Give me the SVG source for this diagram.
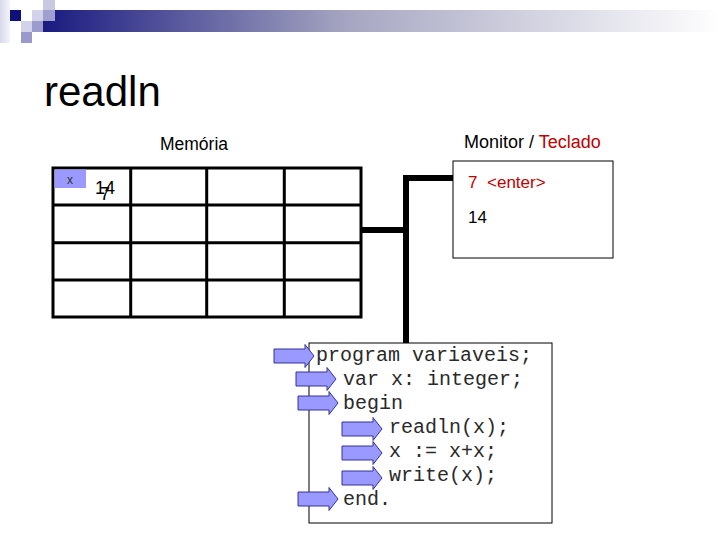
<svg xmlns="http://www.w3.org/2000/svg" width="720" height="540" viewBox="0 0 720 540">
<defs>
<linearGradient id="bar" x1="0" y1="0" x2="1" y2="0">
<stop offset="0" stop-color="#1a1a80"/>
<stop offset="0.45" stop-color="#a6a6c2"/>
<stop offset="1" stop-color="#ffffff"/>
</linearGradient>
<linearGradient id="strip" x1="0" y1="0" x2="1" y2="0">
<stop offset="0" stop-color="#d8d8ec"/>
<stop offset="1" stop-color="#f4f4fa"/>
</linearGradient>
<path id="arr" d="M0,-7 H31 V-11.5 L40,0 L31,11.5 V7 H0 Z"/>
</defs>
<style>
.sans{font-family:"Liberation Sans",Arial,sans-serif}
.mono{font-family:"Liberation Mono","Courier New",monospace;font-size:20px;fill:#2a2a2a}
.grid{fill:none;stroke:#000;stroke-width:3}
.wire{fill:none;stroke:#000;stroke-width:6}
.ar{fill:#9999ff;stroke:#333399;stroke-width:1}
</style>
<rect width="720" height="540" fill="#fff"/>
<g id="header">
<rect x="43" y="10" width="677" height="22" fill="url(#bar)"/>
<rect x="0" y="0" width="10" height="43" fill="url(#strip)"/>
<rect x="10" y="10" width="11" height="11" fill="#10107a"/>
<rect x="43" y="0" width="12" height="10" fill="#c8c8e2"/>
<rect x="32" y="10" width="11" height="11" fill="#d2d2ea"/>
<rect x="43" y="10" width="12" height="11" fill="#a0a0d0"/>
<rect x="21" y="21" width="11" height="11" fill="#d2d2ea"/>
<rect x="32" y="21" width="11" height="11" fill="#9c9ccc"/>
<rect x="21" y="32" width="11" height="11" fill="#9999cc"/>
</g>
<text class="sans" x="44" y="106" font-size="42">readln</text>
<g id="memory">
<text class="sans" x="194" y="150" font-size="17.5" text-anchor="middle">Memória</text>
<rect class="grid" x="53" y="168" width="308" height="149"/>
<path class="grid" d="M130.7,168V317M206.7,168V317M284.3,168V317M53,205H361M53,242.7H361M53,280H361"/>
<rect x="54.5" y="169.5" width="31.5" height="18.5" fill="#9999ff"/>
<text class="sans" x="70" y="184" font-size="12" fill="#333" text-anchor="middle">x</text>
<text class="sans" x="95" y="194" font-size="18">14</text>
<text class="sans" x="100" y="200" font-size="18">7</text>
</g>
<g id="monitor">
<text class="sans" x="464" y="148" font-size="18">Monitor / <tspan fill="#c00000">Teclado</tspan></text>
<rect x="453" y="161" width="160" height="97" fill="none" stroke="#000" stroke-width="1"/>
<text class="sans" x="468" y="188" font-size="17" fill="#c00000">7</text>
<text class="sans" x="487" y="188" font-size="17" fill="#c00000">&lt;enter&gt;</text>
<text class="sans" x="468" y="223" font-size="17">14</text>
</g>
<g id="connectors">
<path class="wire" d="M361,230H406M406,343V178H453"/>
</g>
<g id="code">
<rect x="309" y="343" width="243" height="180" fill="#fff" stroke="#000" stroke-width="1"/>
<text class="mono" x="316" y="361">program variaveis;</text>
<text class="mono" x="343" y="385">var x: integer;</text>
<text class="mono" x="343" y="409">begin</text>
<text class="mono" x="389" y="433">readln(x);</text>
<text class="mono" x="389" y="457">x := x+x;</text>
<text class="mono" x="389" y="481">write(x);</text>
<text class="mono" x="343" y="505">end.</text>
</g>
<g id="pointers">
<use href="#arr" class="ar" transform="translate(274,356)"/>
<use href="#arr" class="ar" transform="translate(296,379)"/>
<use href="#arr" class="ar" transform="translate(298,403)"/>
<use href="#arr" class="ar" transform="translate(342,429)"/>
<use href="#arr" class="ar" transform="translate(342,453)"/>
<use href="#arr" class="ar" transform="translate(342,478)"/>
<use href="#arr" class="ar" transform="translate(298,499)"/>
</g>
</svg>
